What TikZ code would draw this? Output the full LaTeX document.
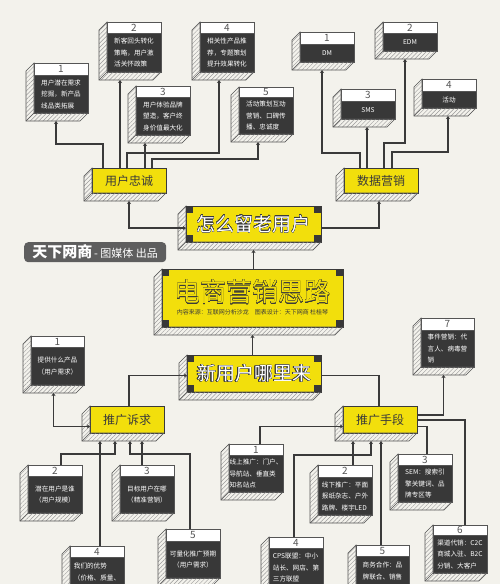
\documentclass[tikz,border=0pt]{standalone}
\usepackage{fontspec}
\setmainfont{Noto Sans CJK SC}
\usepackage{tikz}
\usetikzlibrary{positioning,arrows.meta,patterns.meta}
\usepackage{xcolor}
\usepackage{contour}
\contourlength{0.4pt}

\definecolor{bgcream}{HTML}{F3F2EC}
\definecolor{mainyellow}{HTML}{F2DF0C}
\definecolor{bodydark}{HTML}{383838}
\definecolor{framegray}{HTML}{555555}
\definecolor{linedark}{HTML}{3A3A3A}
\definecolor{hatchgray}{HTML}{9A9A9A}
\definecolor{taggray}{HTML}{5E5E5E}

% hatched side and bottom of a box
\newcommand{\sidebox}[2]{%
  \path[hatchside] (#1.north west) -- ++(-8,8) -- ([shift={(-8,8)}]#2.south west)
    -- ([shift={(-8,8)}]#2.south east) -- (#2.south east) -- (#2.south west) -- cycle;
  \draw[framegray,line width=0.6pt] (#2.south west) -- ++(-8,8);}
\newcommand{\itembox}[9][]{%
  \node[itemhead,minimum width=#5pt,minimum height=#6pt] (#2h) at (#3,#4) {#8};
  \node[itembody,minimum width=#5pt,minimum height=#7pt,#1] (#2) at (#2h.south west) {#9};
  \sidebox{#2h}{#2}}
\newcommand{\titlecorners}[1]{%
  \foreach \a/\dx/\dy in {north west/7/7,north east/-7/7,south west/7/-7,south east/-7/-7}
    \fill[bodydark] (#1.\a) rectangle ++(\dx,\dy);}

\begin{document}
\begin{tikzpicture}[x=1pt,y=-1pt,>={Stealth[length=3pt,width=4pt]},
  link/.style={draw=linedark,line width=1.2pt},
  itemhead/.style={draw=framegray,fill=white,line width=0.6pt,anchor=north west,inner sep=0pt,outer sep=0pt,text=framegray,font=\fontsize{10}{10}\selectfont},
  itembody/.style={draw=framegray,fill=bodydark,line width=0.6pt,anchor=north west,inner sep=0pt,outer sep=0pt,text=white,align=center,font=\fontsize{6.6}{11.5}\selectfont},
  hatchside/.style={pattern={Lines[angle=45,distance=3pt,line width=0.45pt]},pattern color=hatchgray,draw=framegray,line width=0.6pt},
  yellowbox/.style={draw=linedark,fill=mainyellow,line width=0.8pt,anchor=north west,inner sep=0pt,outer sep=0pt,text=linedark,font=\fontsize{12}{12}\selectfont},
  titlebox/.style={yellowbox,align=center},
  brandtag/.style={fill=taggray,rounded corners=4pt,anchor=north west,inner sep=0pt,text=white}]
\useasboundingbox (0,0) rectangle (500,584);
\clip (0,0) rectangle (500,584);
\fill[bgcream] (0,0) rectangle (500,584);

\itembox[align=left]{u1}{34}{63}{54}{12}{38}{1}{用户潜在需求\\挖掘，新产品\\线品类拓展}
\itembox[align=left]{u2}{107}{22}{54}{11}{39}{2}{新客回头转化\\策略，用户激\\活关怀政策}
\itembox[align=left]{u3}{136}{86}{54}{11}{38}{3}{用户体验品牌\\塑造，客户终\\身价值最大化}
\itembox[align=left]{u4}{200}{22}{54}{11}{39}{4}{相关性产品推\\荐，专题策划\\提升效果转化}
\itembox[align=left]{u5}{239}{87}{54}{10}{37}{5}{活动策划互动\\营销、口碑传\\播、忠诚度}

\itembox{d1}{300}{32}{54}{12}{18}{1}{DM}
\itembox{d2}{383}{22}{54}{11}{18}{2}{EDM}
\itembox{d3}{341}{89}{54}{12}{18}{3}{SMS}
\itembox{d4}{422}{79}{54}{12}{17}{4}{活动}

\itembox{a1}{31}{336}{53}{11}{38}{1}{提供什么产品\\（用户需求）}
\itembox{a2}{28}{465}{54}{11}{37}{2}{潜在用户是谁\\（用户规模）}
\itembox{a3}{120}{465}{54}{11}{37}{3}{目标用户在哪\\（精准营销）}
\itembox[align=left]{a4}{70}{546}{54}{11}{30}{4}{我们的优势\\（价格、质量、}
\itembox{a5}{166}{529}{54}{12}{37}{5}{可量化推广预期\\（用户需求）}

\itembox[align=left]{m1}{229}{444}{54}{11}{37}{1}{线上推广：门户、\\导航站、垂直类\\知名站点}
\itembox[align=left]{m2}{318}{465}{54}{12}{38}{2}{线下推广：平面\\报纸杂志、户外\\路牌、楼宇LED}
\itembox[align=left]{m3}{398}{454}{54}{11}{37}{3}{SEM：搜索引\\擎关键词、品\\牌专区等}
\itembox[align=left]{m4}{269}{537}{54}{11}{40}{4}{CPS联盟：中小\\站长、网店、第\\三方联盟}
\itembox[align=left]{m5}{356}{545}{53}{11}{30}{5}{商务合作：品\\牌联合、销售}
\itembox[align=left]{m6}{433}{525}{54}{10}{38}{6}{渠道代销：C2C\\商城入驻、B2C\\分销、大客户}
\itembox[align=left]{m7}{421}{318}{53}{12}{37}{7}{事件营销：代\\言人、病毒营\\销}

\node[yellowbox,minimum width=74pt,minimum height=25pt] (loyal) at (92,168) {用户忠诚};
\sidebox{loyal}{loyal}
\node[yellowbox,minimum width=74pt,minimum height=25pt] (data) at (344,168) {数据营销};
\sidebox{data}{data}
\node[yellowbox,minimum width=74pt,minimum height=27pt] (appeal) at (90,406) {推广诉求};
\sidebox{appeal}{appeal}
\node[yellowbox,minimum width=74pt,minimum height=27pt] (means) at (343,406) {推广手段};
\sidebox{means}{means}

\node[titlebox,minimum width=135pt,minimum height=36pt,font=\fontsize{19}{19}\selectfont] (retain) at (186,206) {{\color{white}\contour{linedark}{怎么留老用户}}};
\sidebox{retain}{retain}
\titlecorners{retain}
\node[titlebox,minimum width=181pt,minimum height=58pt,text depth=14pt,font=\fontsize{26}{26}\selectfont] (main) at (162,269) {{\color{mainyellow}\contour{linedark}{电商营销思路}}};
\sidebox{main}{main}
\titlecorners{main}
\node[text=linedark,inner sep=0pt,font=\fontsize{6}{6}\selectfont] (credit) at ([shift={(0,14)}]main.center) {内容来源：互联网分析沙龙\quad 图表设计：天下网商\ 杜桂琴};
\node[titlebox,minimum width=134pt,minimum height=37pt,font=\fontsize{19}{19}\selectfont] (newusers) at (187,355) {{\color{white}\contour{linedark}{新用户哪里来}}};
\sidebox{newusers}{newusers}
\titlecorners{newusers}

\node[brandtag,minimum width=142pt,minimum height=20pt] (brand) at (24,242) {{\fontsize{15}{15}\selectfont\bfseries 天下网商}\,{\fontsize{11}{11}\selectfont - 图媒体 出品}};

\coordinate (u1e) at ([shift={(-5,8)}]u1.south);
\coordinate (u2e) at ([shift={(-14,8)}]u2.south);
\coordinate (u3e) at ([shift={(-18,8)}]u3.south);
\coordinate (u4e) at ([shift={(-8,8)}]u4.south);
\coordinate (u5e) at ([shift={(-8,8)}]u5.south);
\draw[link,<-] (u1e) -- ++(0,23) -| ([shift={(11,0)}]loyal.north west);
\draw[link,<-] (u2e) -- (u2e |- loyal.north);
\draw[link,<-] (u3e) -- (u3e |- loyal.north);
\draw[link,<-] (u4e) -- ++(0,73) -| ([shift={(35,0)}]loyal.north west);
\draw[link,<-] (u5e) -- ++(0,17) -| ([shift={(60,0)}]loyal.north west);

\coordinate (d1e) at ([shift={(-5,8)}]d1.south);
\coordinate (d2e) at ([shift={(-5,8)}]d2.south);
\coordinate (d3e) at ([shift={(-1,8)}]d3.south);
\coordinate (d4e) at ([shift={(-1,8)}]d4.south);
\draw[link,<-] (d1e) -- ++(0,83) -| ([shift={(16,0)}]data.north west);
\draw[link,<-] (d2e) -- ++(0,84) -| ([shift={(40,0)}]data.north west);
\draw[link,<-] (d3e) -- (d3e |- data.north);
\draw[link,<-] (d4e) -- ++(0,36) -| ([shift={(48,0)}]data.north west);

\draw[link,<->] ([shift={(0,8)}]loyal.south) |- ([shift={(0,4)}]retain.west);
\draw[link,<-] ([shift={(-2,8)}]data.south) |- ([shift={(0,4)}]retain.east);
\coordinate (re) at ([shift={(0,8)}]retain.south);
\draw[link,<-] (re) -- (re |- main.north);
\coordinate (me) at ([shift={(0,8)}]main.south);
\draw[link,<-] (me) -- (me |- newusers.north);

\draw[link,->] ([shift={(2,0)}]appeal.north) |- ([shift={(0,2)}]newusers.west);
\draw[link] ([shift={(0,2)}]newusers.east) -| ([shift={(-1,0)}]means.north);

\coordinate (a1e) at ([shift={(-4,8)}]a1.south);
\draw[link,<->] (a1e) |- ([shift={(0,7)}]appeal.west);
\coordinate (ab2) at ([shift={(-12,8)}]appeal.south);
\coordinate (ab3) at ([shift={(15,8)}]appeal.south);
\coordinate (ab4) at ([shift={(-27,8)}]appeal.south);
\coordinate (ab5) at ([shift={(3,8)}]appeal.south);
\draw[link,<-] (ab2) -- ++(0,13) -| ([shift={(6,0)}]a2h.north);
\draw[link,<-] (ab3) -- (ab3 |- a3h.north);
\draw[link,<-] (ab4) -- (ab4 |- a4h.north);
\draw[link,<-] (ab5) -- ++(0,13) -| ([shift={(-3,0)}]a5h.north);

\draw[link,->] ([shift={(4,0)}]m1h.north) |- ([shift={(0,7)}]means.west);
\coordinate (mb2) at ([shift={(-27,8)}]means.south);
\coordinate (mb4) at ([shift={(-9,8)}]means.south);
\coordinate (mb5) at ([shift={(1,8)}]means.south);
\draw[link,<-] (mb2) -- (mb2 |- m2h.north);
\draw[link] ([shift={(0,7)}]means.east) -| ([shift={(2,0)}]m3h.north);
\draw[link,<-] (mb4) -- ++(0,14) -| ([shift={(-2,0)}]m4h.north);
\draw[link,<-] (mb5) -- (mb5 |- m5h.north);
\draw[link] ([shift={(0,0.5)}]means.east) -| ([shift={(5,0)}]m6h.north);
\coordinate (m7e) at ([shift={(-4,8)}]m7.south);
\draw[link,<-] (m7e) |- ([shift={(0,-4.5)}]means.east);
\end{tikzpicture}
\end{document}
